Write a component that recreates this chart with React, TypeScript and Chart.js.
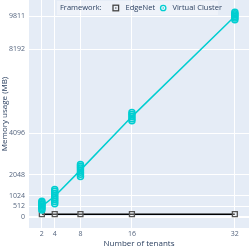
import React, { useEffect, useRef } from "react";
import { Chart, registerables } from "chart.js";

Chart.register(...registerables);

const xTicks = [2, 4, 8, 16, 32];
const yTicks = [0, 512, 1024, 2048, 4096, 8192, 9811];

const edgeNetX = [2, 4, 8, 16, 32];
const edgeNetY = [125, 125, 125, 125, 125];

const vcMeanX = [2, 4, 8, 16, 32];
const vcMeanY = [520, 1000, 2280, 4900, 9811];

const vcRunsX = [
  2, 2, 2, 2, 2, 2, 2, 2,
  4, 4, 4, 4, 4, 4, 4, 4,
  8, 8, 8, 8, 8, 8, 8,
  16, 16, 16, 16, 16,
  32, 32, 32, 32, 32, 32,
];
const vcRunsY = [
  330, 400, 460, 520, 580, 640, 700, 760,
  640, 740, 840, 940, 1040, 1140, 1240, 1330,
  1970, 2080, 2180, 2280, 2380, 2470, 2560,
  4700, 4800, 4900, 5000, 5100,
  9640, 9720, 9800, 9870, 9940, 10010,
];

const CYAN = "#00CED1";
const FONT = "'Open Sans', verdana, arial, sans-serif";
const TXT = "#2a3f5f";
const TICK = "#55657f";

const bgPlugin = {
  id: "plotBg",
  beforeDraw(chart: any) {
    const { ctx, chartArea } = chart;
    ctx.save();
    ctx.fillStyle = "#E5ECF6";
    ctx.fillRect(chartArea.left, chartArea.top, chartArea.right - chartArea.left, chartArea.bottom - chartArea.top);
    ctx.restore();
  },
};

const legendPlugin = {
  id: "plotLegend",
  afterDraw(chart: any) {
    const { ctx } = chart;
    ctx.save();
    ctx.fillStyle = "rgba(255,255,255,0.35)";
    ctx.fillRect(57, 1, 161, 14);
    ctx.font = `7.5px ${FONT}`;
    ctx.fillStyle = TXT;
    ctx.textBaseline = "middle";
    ctx.textAlign = "left";
    const cy = 8;
    ctx.fillText("Framework:", 60, cy);
    // square-open-dot
    ctx.strokeStyle = "#444";
    ctx.lineWidth = 1.3;
    ctx.strokeRect(113, cy - 2.8, 5.6, 5.6);
    ctx.fillStyle = "#444";
    ctx.fillRect(115.2, cy - 0.6, 1.2, 1.2);
    ctx.fillStyle = TXT;
    ctx.fillText("EdgeNet", 125.5, cy);
    // circle-open-dot
    ctx.strokeStyle = CYAN;
    ctx.beginPath();
    ctx.arc(163.2, cy, 2.7, 0, Math.PI * 2);
    ctx.stroke();
    ctx.fillStyle = CYAN;
    ctx.beginPath();
    ctx.arc(163.2, cy, 0.7, 0, Math.PI * 2);
    ctx.fill();
    ctx.fillStyle = TXT;
    ctx.fillText("Virtual Cluster", 172.5, cy);
    ctx.restore();
  },
};

export default function App() {
  const ref = useRef<HTMLCanvasElement>(null);
  useEffect(() => {
    if (!ref.current) return;
    const chart = new Chart(ref.current, {
      type: "scatter",
      data: {
        datasets: [
          {
            type: "line",
            label: "Virtual Cluster mean",
            data: vcMeanX.map((x, i) => ({ x, y: vcMeanY[i] })),
            borderColor: CYAN,
            borderWidth: 1.5,
            pointRadius: 0,
            fill: false,
          } as any,
          {
            type: "scatter",
            label: "Virtual Cluster",
            data: vcRunsX.map((x, i) => ({ x, y: vcRunsY[i] })),
            pointStyle: "circle",
            pointRadius: 3,
            borderWidth: 1.5,
            borderColor: CYAN,
            backgroundColor: "rgba(0,206,209,0.15)",
          },
          {
            type: "line",
            label: "EdgeNet",
            data: edgeNetX.map((x, i) => ({ x, y: edgeNetY[i] })),
            borderColor: "#000",
            borderWidth: 1.5,
            pointStyle: "rect",
            pointRadius: 3.5,
            pointBorderWidth: 1.3,
            pointBorderColor: "#555",
            pointBackgroundColor: "rgba(255,255,255,0.3)",
            fill: false,
          } as any,
        ],
      },
      options: {
        animation: false,
        responsive: false,
        maintainAspectRatio: false,
        layout: { padding: 0, autoPadding: false },
        plugins: { legend: { display: false }, tooltip: { enabled: false } },
        scales: {
          x: {
            type: "linear",
            min: 0,
            max: 34.2,
            afterBuildTicks: (axis: any) => {
              axis.ticks = xTicks.map((v) => ({ value: v }));
            },
            afterFit: (axis: any) => {
              axis.height = 21;
            },
            border: { display: false },
            grid: { color: "#fff", lineWidth: 1, drawTicks: false },
            ticks: {
              padding: 2,
              color: TICK,
              font: { family: FONT, size: 7 },
              maxRotation: 0,
              autoSkip: false,
            },
            title: {
              display: true,
              text: "Number of tenants",
              color: TXT,
              font: { family: FONT, size: 8 },
              padding: { top: 0, bottom: 0 },
            },
          },
          y: {
            type: "linear",
            min: -553,
            max: 10607,
            afterBuildTicks: (axis: any) => {
              axis.ticks = yTicks.map((v) => ({ value: v }));
            },
            afterFit: (axis: any) => {
              axis.width = 29;
              axis.paddingTop = 0;
              axis.paddingBottom = 0;
            },
            border: { display: false },
            grid: {
              color: "#fff",
              lineWidth: (c: any) => (c.tick && c.tick.value === 0 ? 2 : 1),
              drawTicks: false,
            },
            ticks: {
              padding: 4,
              color: TICK,
              font: { family: FONT, size: 7 },
              autoSkip: false,
              callback: (v: any) => String(v),
            },
            title: {
              display: true,
              text: "Memory usage (MB)",
              color: TXT,
              font: { family: FONT, size: 8 },
              padding: { top: 0, bottom: 0 },
            },
          },
        },
      },
      plugins: [bgPlugin, legendPlugin],
    });
    return () => chart.destroy();
  }, []);
  return (
    <div style={{ position: "fixed", left: 0, top: 0, width: 249, height: 249, background: "#fff" }}>
      <canvas ref={ref} width={249} height={249} style={{ width: 249, height: 249, display: "block" }} />
    </div>
  );
}
